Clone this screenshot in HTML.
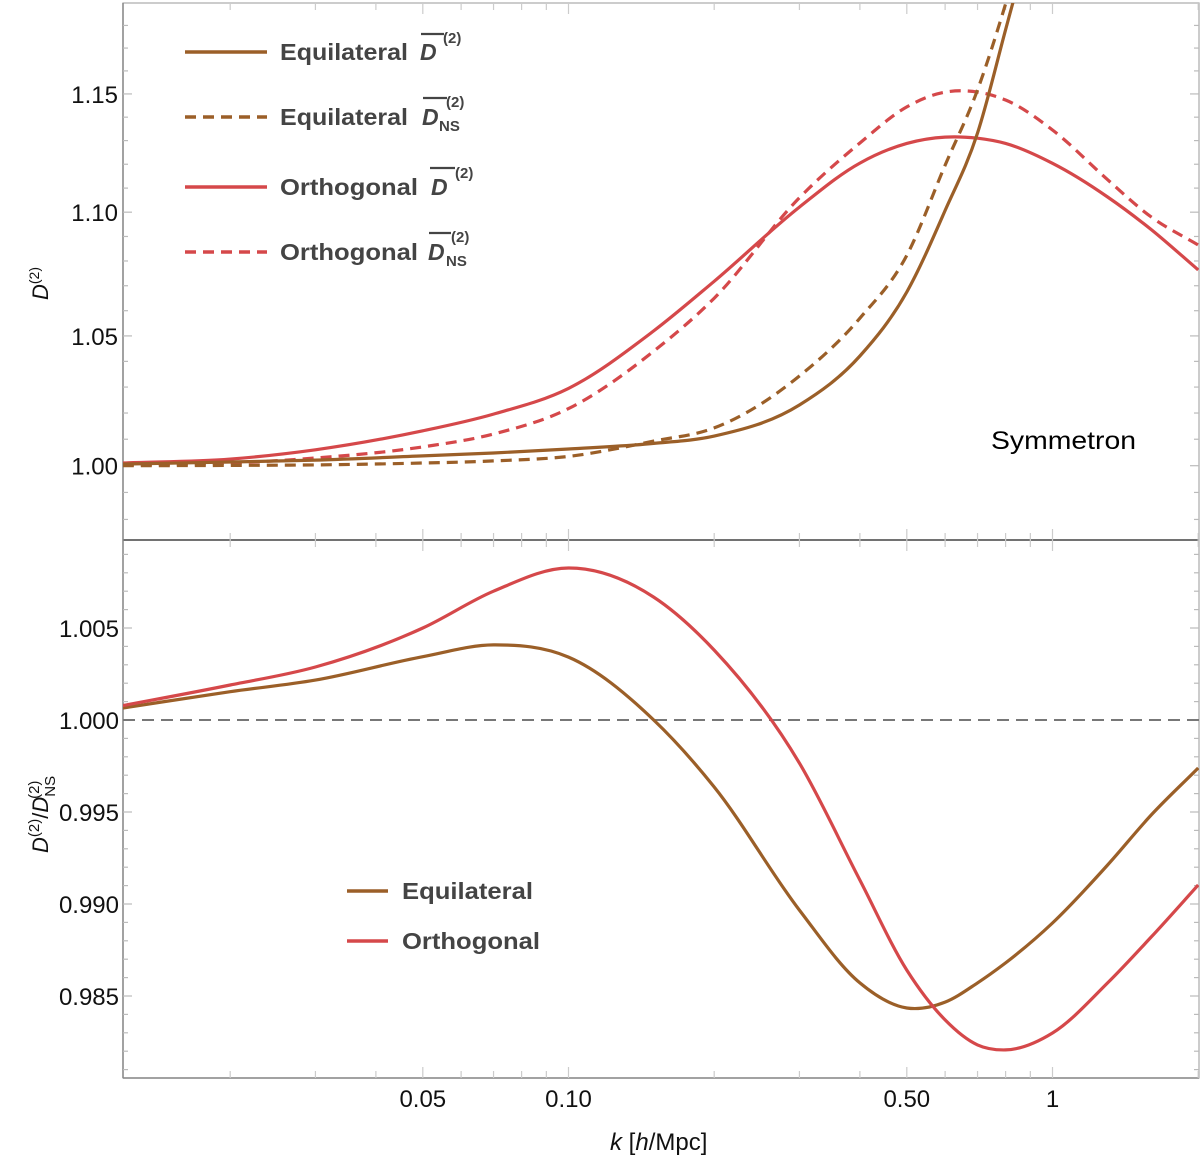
<!DOCTYPE html>
<html><head><meta charset="utf-8"><style>
body{margin:0;background:#fff;}
svg{display:block;font-family:"Liberation Sans",sans-serif;}
.leg{font-weight:bold;fill:#444;font-size:23px;}
.tick{font-size:24px;fill:#111;}
</style></head><body>
<svg id="chart" width="1200" height="1155" viewBox="0 0 1200 1155" xmlns="http://www.w3.org/2000/svg">
<defs>
<clipPath id="clipTop"><rect x="123" y="3" width="1076" height="537"/></clipPath>
<clipPath id="clipBot"><rect x="123" y="540" width="1076" height="538"/></clipPath>
</defs>
<g id="frame"></g>
<g id="ticks"></g>
<g id="seriesTop" clip-path="url(#clipTop)"></g>
<g id="seriesBot" clip-path="url(#clipBot)"></g>

<text x="991" y="449" font-size="25" textLength="145" lengthAdjust="spacingAndGlyphs" fill="#000">Symmetron</text>

<g>
 <line x1="185" y1="52" x2="267" y2="52" stroke="#9b5f28" stroke-width="3.5"/>
 <text class="leg" x="280" y="60" textLength="128" lengthAdjust="spacingAndGlyphs">Equilateral</text>
 <text class="leg" x="420" y="60" style="font-style:italic;font-size:23px">D</text>
 <text class="leg" x="443" y="43" style="font-size:15px">(2)</text>
 <line x1="421" y1="34" x2="444" y2="34" stroke="#444" stroke-width="2.2"/>

 <line x1="185" y1="117" x2="267" y2="117" stroke="#9b5f28" stroke-width="3.5" stroke-dasharray="11,7"/>
 <text class="leg" x="280" y="125" textLength="128" lengthAdjust="spacingAndGlyphs">Equilateral</text>
 <text class="leg" x="422" y="125" style="font-style:italic;font-size:23px">D</text>
 <text class="leg" x="439" y="131" style="font-size:15px">NS</text>
 <text class="leg" x="446" y="107" style="font-size:15px">(2)</text>
 <line x1="423" y1="98" x2="447" y2="98" stroke="#444" stroke-width="2.2"/>

 <line x1="185" y1="187" x2="267" y2="187" stroke="#d5484a" stroke-width="3.5"/>
 <text class="leg" x="280" y="195" textLength="138" lengthAdjust="spacingAndGlyphs">Orthogonal</text>
 <text class="leg" x="431" y="195" style="font-style:italic;font-size:23px">D</text>
 <text class="leg" x="455" y="178" style="font-size:15px">(2)</text>
 <line x1="430" y1="168" x2="455" y2="168" stroke="#444" stroke-width="2.2"/>

 <line x1="185" y1="252" x2="267" y2="252" stroke="#d5484a" stroke-width="3.5" stroke-dasharray="11,7"/>
 <text class="leg" x="280" y="260" textLength="138" lengthAdjust="spacingAndGlyphs">Orthogonal</text>
 <text class="leg" x="428" y="260" style="font-style:italic;font-size:23px">D</text>
 <text class="leg" x="446" y="266" style="font-size:15px">NS</text>
 <text class="leg" x="451" y="242" style="font-size:15px">(2)</text>
 <line x1="429" y1="233" x2="451" y2="233" stroke="#444" stroke-width="2.2"/>
</g>

<g>
 <line x1="347" y1="891" x2="388" y2="891" stroke="#9b5f28" stroke-width="3.5"/>
 <text class="leg" x="402" y="899" textLength="131" lengthAdjust="spacingAndGlyphs">Equilateral</text>
 <line x1="347" y1="941" x2="388" y2="941" stroke="#d5484a" stroke-width="3.5"/>
 <text class="leg" x="402" y="949" textLength="138" lengthAdjust="spacingAndGlyphs">Orthogonal</text>
</g>

<text transform="translate(48,300) rotate(-90)" font-size="22" fill="#111"><tspan font-style="italic">D</tspan><tspan font-size="14" dy="-9">(2)</tspan></text>
<text transform="translate(48,853) rotate(-90)" font-size="22" fill="#111"><tspan font-style="italic">D</tspan><tspan font-size="15" dy="-9">(2)</tspan><tspan dy="9">/</tspan><tspan font-style="italic">D</tspan><tspan font-size="15" dy="7">NS</tspan><tspan font-size="15" dx="-23" dy="-16">(2)</tspan></text>
<text x="610" y="1150" font-size="24" fill="#111"><tspan font-style="italic">k</tspan> [<tspan font-style="italic">h</tspan>/Mpc]</text>
</svg>
<script>
const kValues=[0.012,0.02,0.03,0.05,0.07,0.1,0.15,0.2,0.3,0.4,0.5,0.6,0.7,0.8,1.0,1.3,1.6,2.0];
const eqD=[1.0006,1.0014,1.0021,1.0037,1.0048,1.0063,1.0084,1.0112,1.0231,1.0421,1.0675,1.1007,1.1332,1.1781,1.2600,1.3900,1.5200,1.6800];
const eqDNS=[1.0000,1.0001,1.0003,1.0010,1.0018,1.0035,1.0093,1.0143,1.0343,1.0570,1.0823,1.1196,1.1517,1.1896,1.2700,1.4000,1.5300,1.6900];
const orthD=[1.0010,1.0025,1.0060,1.0132,1.0196,1.0295,1.0520,1.0718,1.1021,1.1205,1.1288,1.1315,1.1310,1.1288,1.1204,1.1063,1.0928,1.0764];
const orthDNS=[1.0003,1.0010,1.0029,1.0071,1.0120,1.0217,1.0440,1.0650,1.1060,1.1290,1.1444,1.1508,1.1508,1.1474,1.1345,1.1135,1.0980,1.0865];
const eqRatio=[1.00065,1.00154,1.00217,1.00344,1.00408,1.00342,1.0000,0.99636,0.98967,0.98571,0.98435,0.98467,0.98571,0.9868,0.98897,0.99212,0.99484,0.99739];
const orthRatio=[1.00078,1.0019,1.00288,1.00500,1.0070,1.00826,1.00668,1.0038,0.99766,0.9913,0.98641,0.9837,0.98234,0.98207,0.98299,0.98571,0.98821,0.99103];
const xTickVals=[0.05,0.1,0.5,1];
const xTickLabels=["0.05","0.10","0.50","1"];
const topTickVals=[1.00,1.05,1.10,1.15];
const topTickLabels=["1.00","1.05","1.10","1.15"];
const botTickVals=[0.985,0.990,0.995,1.000,1.005];
const botTickLabels=["0.985","0.990","0.995","1.000","1.005"];

const NS='http://www.w3.org/2000/svg';
const L=123,R=1199,TOP=3,MID=540,BOT=1078;
function xS(k){return 568.5+484*Math.log10(k/0.1);}
function yTop(d){return 465.7-2660*Math.log(d);}
function yBot(v){return 720-18400*(v-1);}
function mk(tag,attrs,parent){const e=document.createElementNS(NS,tag);for(const a in attrs)e.setAttribute(a,attrs[a]);parent.appendChild(e);return e;}
function pathD(xs,ys){
  const n=xs.length, m=[];
  for(let i=0;i<n;i++){
    if(i===0) m.push((ys[1]-ys[0])/(xs[1]-xs[0]));
    else if(i===n-1) m.push((ys[n-1]-ys[n-2])/(xs[n-1]-xs[n-2]));
    else{
      const d0=(ys[i]-ys[i-1])/(xs[i]-xs[i-1]), d1=(ys[i+1]-ys[i])/(xs[i+1]-xs[i]);
      const h0=xs[i]-xs[i-1], h1=xs[i+1]-xs[i];
      m.push((d0*h1+d1*h0)/(h0+h1));
    }
  }
  let d='M'+xs[0].toFixed(1)+','+ys[0].toFixed(1);
  for(let i=0;i<n-1;i++){
    const h=(xs[i+1]-xs[i])/3;
    d+='C'+(xs[i]+h).toFixed(1)+','+(ys[i]+m[i]*h).toFixed(1)+' '+(xs[i+1]-h).toFixed(1)+','+(ys[i+1]-m[i+1]*h).toFixed(1)+' '+xs[i+1].toFixed(1)+','+ys[i+1].toFixed(1);
  }
  return d;
}
const frame=document.getElementById('frame');
const ticks=document.getElementById('ticks');
mk('rect',{x:L,y:TOP,width:R-L,height:BOT-TOP,fill:'none',stroke:'#aaa','stroke-width':1.2},frame);
let sep=mk('line',{x1:L,y1:MID,x2:R,y2:MID,stroke:'#444','stroke-width':1.5},frame);


mk('line',{x1:L,y1:BOT,x2:R,y2:BOT,stroke:'#888','stroke-width':1.5},frame);
mk('line',{x1:L,y1:TOP,x2:L,y2:BOT,stroke:'#888','stroke-width':1.5},frame);
const xs=[];
for(const dec of [0.01,0.1,1]){for(let m=1;m<10;m++){const k=dec*m;if(k>=0.0118&&k<=2.02)xs.push(k);}}
xs.forEach(k=>{
  const x=xS(k);const major=xTickVals.some(v=>Math.abs(v-k)<1e-9);
  const len=major?11:7;
  for(const y of [TOP,MID,BOT]){
    if(y!==TOP) mk('line',{x1:x,y1:y,x2:x,y2:y-len,stroke:'#ccc','stroke-width':1.2},ticks);
    if(y!==BOT) mk('line',{x1:x,y1:y,x2:x,y2:y+len,stroke:'#ccc','stroke-width':1.2},ticks);
  }
});
xTickVals.forEach((v,i)=>{
  const t=mk('text',{x:xS(v),y:1107,'text-anchor':'middle',class:'tick'},ticks);
  t.textContent=xTickLabels[i];
  
  
});
for(let v=0.98;v<=1.185;v+=0.01){
  const y=yTop(v);if(y<TOP||y>MID)continue;
  const major=topTickVals.some(t=>Math.abs(t-v)<1e-6);
  mk('line',{x1:L,y1:y,x2:L+(major?9:5),y2:y,stroke:'#bbb','stroke-width':1.2},ticks);
  mk('line',{x1:R,y1:y,x2:R-(major?9:5),y2:y,stroke:'#bbb','stroke-width':1.2},ticks);
}
topTickVals.forEach((v,i)=>{
  const t=mk('text',{x:118,y:yTop(v)+9,'text-anchor':'end',class:'tick'},ticks);
  t.textContent=topTickLabels[i];
  
  
});
for(let v=0.981;v<=1.0095;v+=0.001){
  const y=yBot(v);if(y<MID||y>BOT)continue;
  const major=botTickVals.some(t=>Math.abs(t-v)<1e-6);
  mk('line',{x1:L,y1:y,x2:L+(major?9:5),y2:y,stroke:'#bbb','stroke-width':1.2},ticks);
  mk('line',{x1:R,y1:y,x2:R-(major?9:5),y2:y,stroke:'#bbb','stroke-width':1.2},ticks);
}
botTickVals.forEach((v,i)=>{
  const t=mk('text',{x:119,y:yBot(v)+9,'text-anchor':'end',class:'tick'},ticks);
  t.textContent=botTickLabels[i];
  
  
});
const gT=document.getElementById('seriesTop');
const gB=document.getElementById('seriesBot');
const kx=kValues.map(xS);
const EQ='#9b5f28',OR='#d5484a';
let p;
p=mk('path',{d:pathD(kx,orthDNS.map(yTop)),fill:'none',stroke:OR,'stroke-width':3.2,'stroke-dasharray':'11,7'},gT);


p=mk('path',{d:pathD(kx,eqDNS.map(yTop)),fill:'none',stroke:EQ,'stroke-width':3.2,'stroke-dasharray':'11,7'},gT);


p=mk('path',{d:pathD(kx,orthD.map(yTop)),fill:'none',stroke:OR,'stroke-width':3.2},gT);


p=mk('path',{d:pathD(kx,eqD.map(yTop)),fill:'none',stroke:EQ,'stroke-width':3.2},gT);


p=mk('line',{x1:L,y1:yBot(1),x2:R,y2:yBot(1),stroke:'#777','stroke-width':2,'stroke-dasharray':'12,7'},gB);


p=mk('path',{d:pathD(kx,eqRatio.map(yBot)),fill:'none',stroke:EQ,'stroke-width':3.2},gB);


p=mk('path',{d:pathD(kx,orthRatio.map(yBot)),fill:'none',stroke:OR,'stroke-width':3.2},gB);


</script>
</body></html>
